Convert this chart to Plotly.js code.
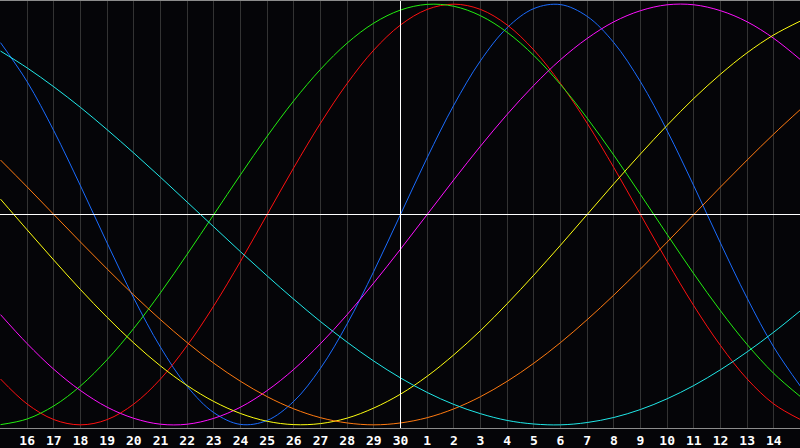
<!DOCTYPE html>
<html>
<head>
<meta charset="utf-8">
<script src="https://cdn.plot.ly/plotly-3.0.1.min.js"></script>
<style>
html,body{margin:0;padding:0;background:#050508;}
#chart{width:800px;height:448px;}
</style>
</head>
<body>
<div id="chart"></div>
<script>
// Day labels across the chart (15th to 15th of next month)
const dayLabels = ["15","16","17","18","19","20","21","22","23","24","25","26","27","28","29","30",
                   "1","2","3","4","5","6","7","8","9","10","11","12","13","14","15"];
const todayLabel = "30";

// Cycle values (-100..100) read per day from the picture
const physical23 = [81.7,63.1,39.8,13.6,-13.6,-39.8,-63.1,-81.7,-94.2,-99.8,-97.9,-88.8,-73.1,-52.0,-27.0,0,
                    27.0,52.0,73.1,88.8,97.9,99.8,94.2,81.7,63.1,39.8,13.6,-13.6,-39.8,-63.1,-81.7];
const emotional28 = [-78.2,-90.1,-97.5,-100,-97.5,-90.1,-78.2,-62.3,-43.4,-22.3,0,22.3,43.4,62.3,78.2,90.1,
                     97.5,100,97.5,90.1,78.2,62.3,43.4,22.3,0,-22.3,-43.4,-62.3,-78.2,-90.1,-97.5];
const intellectual33 = [-99.9,-97.2,-91.0,-81.5,-69.0,-54.1,-37.2,-18.9,0,18.9,37.2,54.1,69.0,81.5,91.0,97.2,
                        99.9,99.0,94.5,86.6,75.6,61.8,45.8,28.2,9.5,-9.5,-28.2,-45.8,-61.8,-75.6,-86.6];
const intuitive38 = [-47.6,-61.4,-73.6,-83.7,-91.6,-96.9,-99.7,-99.7,-96.9,-91.6,-83.7,-73.6,-61.4,-47.6,-32.5,-16.5,
                     0,16.5,32.5,47.6,61.4,73.6,83.7,91.6,96.9,99.7,99.7,96.9,91.6,83.7,73.6];
const aesthetic43 = [7.3,-7.3,-21.7,-35.7,-48.9,-61.1,-72.0,-81.3,-88.9,-94.6,-98.3,-99.9,-99.4,-96.8,-92.0,-85.4,
                     -76.9,-66.7,-55.2,-42.4,-28.8,-14.6,0,14.6,28.8,42.4,55.2,66.7,76.9,85.4,92.0];
const awareness48 = [25.9,13.1,0,-13.1,-25.9,-38.3,-50.0,-60.9,-70.7,-79.3,-86.6,-92.4,-96.6,-99.1,-100,-99.1,
                     -96.6,-92.4,-86.6,-79.3,-70.7,-60.9,-50.0,-38.3,-25.9,-13.1,0,13.1,25.9,38.3,50.0];
const spiritual53 = [77.7,69.7,60.7,50.9,40.3,29.2,17.7,5.9,-5.9,-17.7,-29.2,-40.3,-50.9,-60.7,-69.7,-77.7,
                     -84.6,-90.3,-94.7,-97.9,-99.6,-100.0,-98.9,-96.5,-92.7,-87.6,-81.3,-73.8,-65.3,-55.9,-45.7];

const seriesNames = ["Physical","Emotional","Intellectual","Intuitive","Aesthetic","Awareness","Spiritual"];
const seriesColors = ["#1a6cff","#ff1010","#22ee10","#ff10ff","#ffff10","#ff7a10","#20e8e8"];
const seriesValues = [physical23, emotional28, intellectual33, intuitive38, aesthetic43, awareness48, spiritual53];

const xIdx = dayLabels.map((_, i) => i);
const todayIdx = dayLabels.indexOf(todayLabel);
const tickIdx = xIdx.slice(1, xIdx.length - 1);
const tickTxt = dayLabels.slice(1, dayLabels.length - 1);
const nDays = xIdx.length - 1;
const halfPx = 0.5 / (800 / nDays);   // align lines to pixel centres

const traces = seriesValues.map((vals, s) => ({
  type: "scatter",
  mode: "lines",
  x: xIdx,
  y: vals,
  name: seriesNames[s],
  line: {color: seriesColors[s], width: 1, shape: "spline", smoothing: 1},
  hoverinfo: "skip"
}));

const layout = {
  width: 800, height: 448,
  margin: {l: 0, r: 0, t: 1, b: 20, pad: 0},
  paper_bgcolor: "#050508",
  plot_bgcolor: "#050508",
  showlegend: false,
  xaxis: {
    range: [-halfPx, nDays - halfPx],
    tickvals: tickIdx,
    ticktext: tickTxt,
    tickfont: {family: "DejaVu Sans Mono", size: 13, color: "#ffffff", weight: "bold"},
    ticks: "",
    showgrid: true,
    gridcolor: "#333333",
    gridwidth: 1,
    zeroline: false,
    showline: true,
    linecolor: "#8c8c8c",
    linewidth: 1,
    mirror: true,
    fixedrange: true
  },
  yaxis: {
    range: [-101.5, 101.5],
    showgrid: false,
    showticklabels: false,
    ticks: "",
    zeroline: false,
    showline: true,
    linecolor: "#8c8c8c",
    linewidth: 1,
    mirror: true,
    fixedrange: true
  },
  shapes: [
    {type: "line", xref: "x", yref: "paper", x0: todayIdx, x1: todayIdx, y0: 0, y1: 1,
     line: {color: "#ffffff", width: 1}, layer: "above"},
    {type: "line", xref: "paper", yref: "y", x0: 0, x1: 1, y0: 0, y1: 0,
     line: {color: "#ffffff", width: 1}, layer: "above"}
  ]
};

Plotly.newPlot("chart", traces, layout, {staticPlot: true, displayModeBar: false});
</script>
</body>
</html>
